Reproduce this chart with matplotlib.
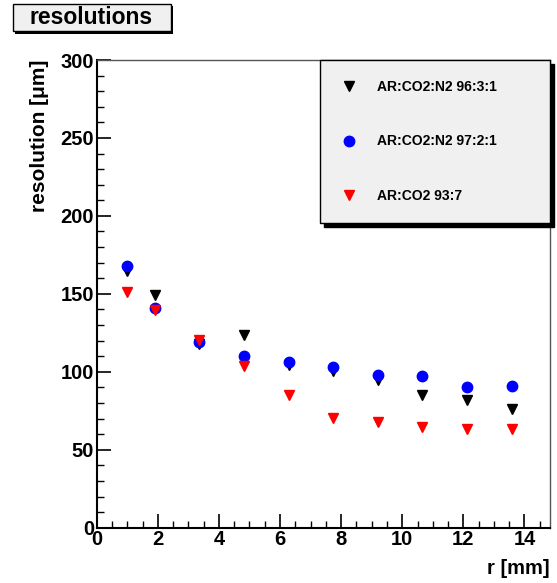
import matplotlib
matplotlib.use("Agg")
import matplotlib.pyplot as plt
from matplotlib.ticker import MultipleLocator
from matplotlib.patches import Rectangle

plt.rcParams['font.family'] = ['Liberation Sans', 'DejaVu Sans']
plt.rcParams['font.weight'] = 'bold'

r_mm = [1.00, 1.91, 3.36, 4.82, 6.29, 7.75, 9.21, 10.66, 12.12, 13.59]
res_96_3_1 = [164.9, 149.4, 118.0, 123.8, 104.3, 100.4, 94.7, 84.9, 81.9, 76.0]
res_97_2_1 = [167.9, 141.0, 118.9, 110.0, 106.2, 103.2, 98.1, 97.2, 90.2, 91.1]
res_93_7 = [151.5, 139.6, 120.6, 103.6, 84.9, 70.6, 67.9, 64.7, 63.6, 63.6]
labels = ["AR:CO2:N2 96:3:1", "AR:CO2:N2 97:2:1", "AR:CO2 93:7"]

W, H = 557, 583
fig = plt.figure(figsize=(W / 100, H / 100), dpi=100)
ax = fig.add_axes([96.7 / W, 1 - 527.7 / H, (549.5 - 96.7) / W, (527.7 - 60) / H])

ax.plot(r_mm, res_96_3_1, linestyle='none', marker='v', color='black', ms=7, label=labels[0])
ax.plot(r_mm, res_97_2_1, linestyle='none', marker='o', color='blue', ms=7.5, label=labels[1])
ax.plot(r_mm, res_93_7, linestyle='none', marker='v', color='red', ms=7, label=labels[2])

ax.set_xlim(0, 14.82)
ax.set_ylim(0, 300)
ax.xaxis.set_major_locator(MultipleLocator(2))
ax.xaxis.set_minor_locator(MultipleLocator(0.5))
ax.yaxis.set_major_locator(MultipleLocator(50))
ax.yaxis.set_minor_locator(MultipleLocator(10))
ax.tick_params(which='both', direction='in', top=False, right=False, labelsize=14.5)
ax.tick_params(which='major', length=10, width=1.2)
ax.tick_params(which='minor', length=5, width=1.0)
ax.tick_params(axis='y', pad=2)
ax.tick_params(axis='x', pad=2)
for s in ['left', 'bottom']:
    ax.spines[s].set_linewidth(1.5)
    ax.spines[s].set_color('black')
for s in ['top', 'right']:
    ax.spines[s].set_linewidth(1.0)
    ax.spines[s].set_color('#555555')

ax.set_ylabel("resolution [μm]", loc='top', fontsize=15, fontweight='bold')
ax.yaxis.set_label_coords(-(96.7 - 40) / 452.8, 1.0)
ax.yaxis.label.set_va('center')
ax.set_xlabel("r [mm]", loc='right', fontsize=14.5, fontweight='bold')
ax.xaxis.set_label_coords(1.0, -(568 - 527.7) / 467.7)
ax.xaxis.label.set_va('center')

leg = ax.legend(loc='upper left', bbox_to_anchor=(0.493, 0.0, 0.507, 1.0), mode='expand',
                borderaxespad=0, fancybox=False, frameon=True, facecolor='#f0f0f0',
                edgecolor='black', framealpha=1, fontsize=10, labelspacing=2.9,
                borderpad=1.45, handlelength=1.3, handletextpad=1.35,
                shadow={'ox': 3, 'oy': -3, 'facecolor': 'black', 'edgecolor': 'black', 'alpha': 1})
leg.get_frame().set_linewidth(1.0)
for t in leg.get_texts():
    t.set_fontweight('bold')

# title box
fig.patches.append(Rectangle((15 / W, 1 - 34 / H), 158 / W, 28 / H, transform=fig.transFigure,
                             facecolor='black', edgecolor='none'))
fig.patches.append(Rectangle((12.5 / W, 1 - 31 / H), 158 / W, 27 / H, transform=fig.transFigure,
                             facecolor='#f0f0f0', edgecolor='black', linewidth=1))
fig.text(91 / W, 1 - 18 / H, "resolutions", ha='center', va='center', fontsize=16.5, fontweight='bold')

fig.savefig("out.png", dpi=100, facecolor='white')
